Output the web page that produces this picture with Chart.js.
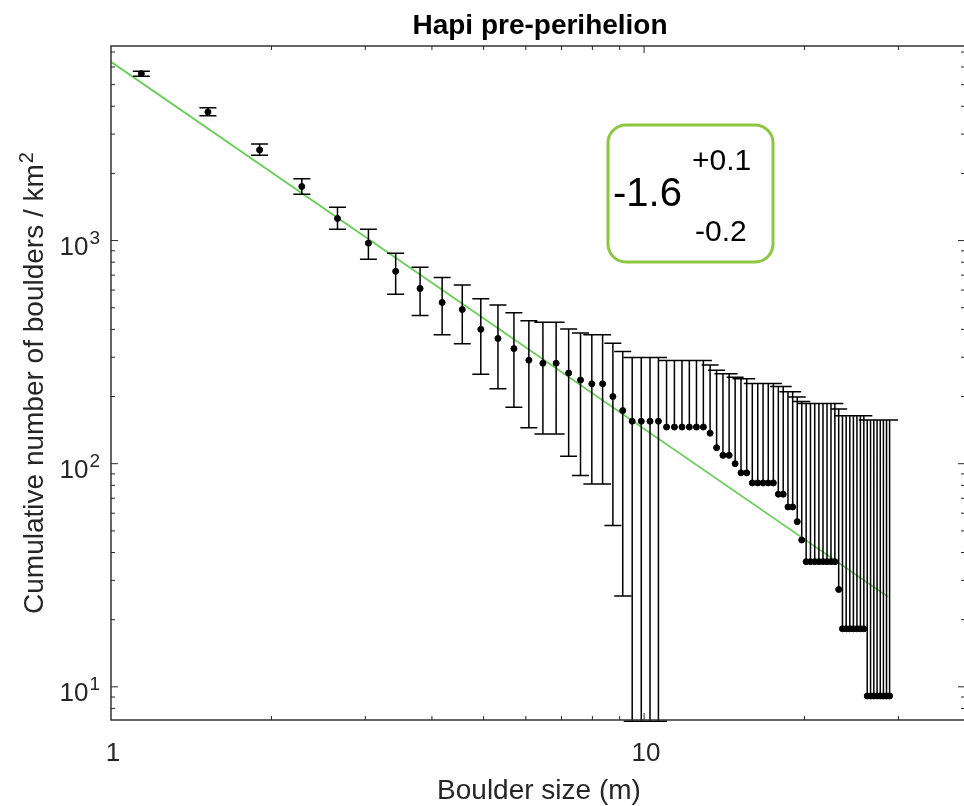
<!DOCTYPE html>
<html>
<head>
<meta charset="utf-8">
<title>Hapi pre-perihelion</title>
<script src="https://cdn.jsdelivr.net/npm/chart.js@4.4.0/dist/chart.umd.min.js"></script>
<style>
  html, body { margin: 0; padding: 0; background: #fff; overflow: hidden; }
  #wrap { position: relative; width: 972px; height: 806px; }
</style>
</head>
<body>
<div id="wrap"><canvas id="sfdChart"></canvas></div>
<script>
// boulder size bins (m)
var sizes = [
  1.14, 1.52, 1.90, 2.28, 2.66, 3.04, 3.42, 3.80, 4.18, 4.56,
  4.94, 5.32, 5.70, 6.08, 6.46, 6.84, 7.22, 7.60, 7.98, 8.36,
  8.74, 9.12, 9.50, 9.88, 10.26, 10.64, 11.02, 11.40, 11.78, 12.16,
  12.54, 12.92, 13.30, 13.68, 14.06, 14.44, 14.82, 15.20, 15.58, 15.96,
  16.34, 16.72, 17.10, 17.48, 17.86, 18.24, 18.62, 19.00, 19.38, 19.76,
  20.14, 20.52, 20.90, 21.28, 21.66, 22.04, 22.42, 22.80, 23.18, 23.56,
  23.94, 24.32, 24.70, 25.08, 25.46, 25.84, 26.22, 26.60, 26.98, 27.36,
  27.74, 28.12, 28.50, 28.88
];
// cumulative number of boulders per km2
var density = [
  5600, 3770, 2550, 1747, 1256, 974, 728, 610, 528, 491,
  400, 364, 328, 291, 282, 282, 255, 237, 228, 228,
  200, 173, 155, 155, 155, 155, 146, 146, 146, 146,
  146, 146, 137, 118, 109, 109, 100, 91, 91, 82,
  82, 82, 82, 82, 73, 73, 64, 64, 55, 45.5,
  36.4, 36.4, 36.4, 36.4, 36.4, 36.4, 36.4, 36.4, 27.3, 18.2,
  18.2, 18.2, 18.2, 18.2, 18.2, 18.2, 9.1, 9.1, 9.1, 9.1,
  9.1, 9.1, 9.1, 9.1
];
// error bar ends; null = no lower bar
var upper = [
  5740, 3940, 2710, 1895, 1411, 1125, 878, 760, 683, 633,
  548, 515, 475, 437, 431, 431, 402, 385, 378, 378,
  347, 318, 299, 299, 299, 299, 290, 290, 290, 290,
  290, 290, 277, 262, 253, 253, 244, 240, 240, 229,
  229, 229, 229, 229, 222, 222, 210, 210, 199, 190,
  186, 186, 186, 186, 186, 186, 186, 186, 176, 164,
  164, 164, 164, 164, 164, 164, 157, 157, 157, 157,
  157, 157, 157, 157
];
var lower = [
  5450, 3630, 2413, 1614, 1125, 825, 575, 461, 378, 345,
  252, 217, 179, 145, 136, 136, 108, 88.6, 81.1, 81.1,
  52.8, 25.5, 7, 7, 7, 7, null, null, null, null,
  null, null, null, null, null, null, null, null, null, null,
  null, null, null, null, null, null, null, null, null, null,
  null, null, null, null, null, null, null, null, null, null,
  null, null, null, null, null, null, null, null, null, null,
  null, null, null, null
];
// power-law fit
var fitSizes = [1, 28.7];
var fitDensity = [6330, 25.3];

var xTicks = [1, 10];
var xTickLabels = ['1', '10'];
var yTicks = [10, 100, 1000];
var yTickExp = ['1', '2', '3'];

var slopeText = '-1.6', slopePlus = '+0.1', slopeMinus = '-0.2';

var ink = '#262626';
var FONT = '"Liberation Sans", Arial, Helvetica, sans-serif';

function pts(xs, ys) {
  return xs.map(function (x, i) { return { x: x, y: ys[i] }; });
}

// error bars go in right after the fit line, so the dots stay on top
var errorBars = {
  id: 'errorBars',
  afterDatasetDraw: function (chart, args) {
    if (args.index !== 1) return;
    var ctx = chart.ctx, xs = chart.scales.x, ys = chart.scales.y;
    var cap = 8.5;
    ctx.save();
    ctx.strokeStyle = '#000';
    ctx.lineWidth = 1.5;
    ctx.beginPath();
    for (var i = 0; i < sizes.length; i++) {
      var px = xs.getPixelForValue(sizes[i]);
      var pv = ys.getPixelForValue(density[i]);
      var pu = ys.getPixelForValue(upper[i]);
      ctx.moveTo(px, pv);
      ctx.lineTo(px, pu);
      ctx.moveTo(px - cap, pu);
      ctx.lineTo(px + cap, pu);
      if (lower[i] !== null) {
        var pl = ys.getPixelForValue(lower[i]);
        ctx.moveTo(px, pv);
        ctx.lineTo(px, pl);
        ctx.moveTo(px - cap, pl);
        ctx.lineTo(px + cap, pl);
      }
    }
    ctx.stroke();
    ctx.restore();
  }
};

// box, inward ticks on all four sides, labels and the slope note
var frame = {
  id: 'frame',
  afterDraw: function (chart) {
    var ctx = chart.ctx, a = chart.chartArea;
    var xs = chart.scales.x, ys = chart.scales.y;
    ctx.save();
    ctx.strokeStyle = ink;
    ctx.lineWidth = 1;
    ctx.beginPath();
    var d, m, v, p, len;
    for (d = 1; d <= 10; d *= 10) {
      for (m = 1; m <= 9; m++) {
        v = m * d;
        if (v <= xs.min || v >= xs.max) continue;
        p = xs.getPixelForValue(v);
        len = m === 1 ? 7 : 4;
        ctx.moveTo(p, a.bottom); ctx.lineTo(p, a.bottom - len);
        ctx.moveTo(p, a.top); ctx.lineTo(p, a.top + len);
      }
    }
    for (d = 1; d <= 1000; d *= 10) {
      for (m = 1; m <= 9; m++) {
        v = m * d;
        if (v <= ys.min || v >= ys.max) continue;
        p = ys.getPixelForValue(v);
        len = m === 1 ? 7 : 4;
        ctx.moveTo(a.left, p); ctx.lineTo(a.left + len, p);
        ctx.moveTo(a.right, p); ctx.lineTo(a.right - len, p);
      }
    }
    ctx.stroke();
    ctx.lineWidth = 1.4;
    ctx.strokeRect(a.left, a.top, a.right - a.left, a.bottom - a.top);

    // tick labels
    ctx.fillStyle = ink;
    ctx.textBaseline = 'alphabetic';
    ctx.font = '26px ' + FONT;
    ctx.textAlign = 'center';
    xTicks.forEach(function (t, i) {
      ctx.fillText(xTickLabels[i], xs.getPixelForValue(t) + 2, a.bottom + 41);
    });
    ctx.textAlign = 'left';
    yTicks.forEach(function (t, i) {
      var py = ys.getPixelForValue(t);
      ctx.font = '26px ' + FONT;
      var wb = ctx.measureText('10').width;
      ctx.font = '19px ' + FONT;
      var we = ctx.measureText(yTickExp[i]).width;
      var x0 = a.left - 12 - we - wb;
      ctx.font = '26px ' + FONT;
      ctx.fillText('10', x0, py + 14.5);
      ctx.font = '19px ' + FONT;
      ctx.fillText(yTickExp[i], x0 + wb + 1, py + 3.5);
    });

    // axis titles
    var cx = (a.left + a.right) / 2, cy = (a.top + a.bottom) / 2;
    ctx.textAlign = 'center';
    ctx.font = '28px ' + FONT;
    ctx.fillText('Boulder size (m)', cx + 1, 799);
    ctx.fillStyle = '#000';
    ctx.font = 'bold 28px ' + FONT;
    ctx.fillText('Hapi pre-perihelion', cx + 2, 34);

    ctx.fillStyle = ink;
    ctx.translate(43, cy);
    ctx.rotate(-Math.PI / 2);
    ctx.textAlign = 'left';
    var main = 'Cumulative number of boulders / km';
    ctx.font = '28px ' + FONT;
    var wm = ctx.measureText(main).width;
    ctx.font = '20px ' + FONT;
    var ws = ctx.measureText('2').width;
    var sx = -(wm + ws + 1) / 2;
    ctx.font = '28px ' + FONT;
    ctx.fillText(main, sx, 0);
    ctx.font = '20px ' + FONT;
    ctx.fillText('2', sx + wm + 1, -10);
    ctx.restore();

    // slope note
    ctx.save();
    var bx = 608, by = 125, bw = 165, bh = 137, r = 18;
    ctx.strokeStyle = 'rgb(141,198,63)';
    ctx.lineWidth = 3;
    ctx.beginPath();
    ctx.moveTo(bx + r, by);
    ctx.arcTo(bx + bw, by, bx + bw, by + bh, r);
    ctx.arcTo(bx + bw, by + bh, bx, by + bh, r);
    ctx.arcTo(bx, by + bh, bx, by, r);
    ctx.arcTo(bx, by, bx + bw, by, r);
    ctx.closePath();
    ctx.stroke();
    ctx.fillStyle = '#000';
    ctx.textAlign = 'left';
    ctx.font = '40px ' + FONT;
    ctx.fillText(slopeText, 613, 206);
    ctx.font = '30px ' + FONT;
    ctx.fillText(slopePlus, 692, 170);
    ctx.fillText(slopeMinus, 695, 241);
    ctx.restore();
  }
};

var ctx = document.getElementById('sfdChart').getContext('2d');
var sfdChart = new Chart(ctx, {
  type: 'scatter',
  data: {
    datasets: [{
      label: 'Hapi',
      data: pts(sizes, density),
      backgroundColor: '#000',
      borderColor: '#000',
      pointRadius: 3,
      pointHoverRadius: 3
    }, {
      type: 'line',
      label: 'fit',
      data: pts(fitSizes, fitDensity),
      borderColor: 'rgb(104,206,88)',
      borderWidth: 1.8,
      pointRadius: 0,
      fill: false
    }]
  },
  options: {
    responsive: true,
    maintainAspectRatio: false,
    animation: false,
    layout: { padding: { left: 111, top: 46, right: 7, bottom: 86 } },
    plugins: { legend: { display: false }, tooltip: { enabled: false } },
    scales: {
      x: { type: 'logarithmic', display: false, min: 1, max: 40 },
      y: { type: 'logarithmic', display: false, min: 7.1, max: 7450 }
    }
  },
  plugins: [errorBars, frame]
});
</script>
</body>
</html>
